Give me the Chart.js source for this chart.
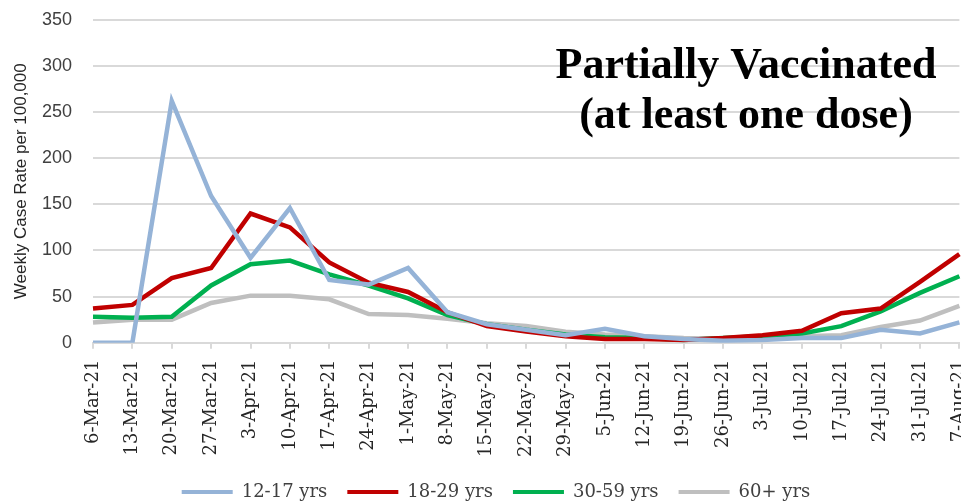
<!DOCTYPE html>
<html>
<head>
<meta charset="utf-8">
<script src="https://cdn.jsdelivr.net/npm/chart.js@4/dist/chart.umd.min.js"></script>
<style>
  html, body { margin: 0; padding: 0; background: #fff; overflow: hidden; }
  #wrap { width: 961px; height: 503px; position: relative; overflow: hidden; }
  #c { position: absolute; left: 0; top: -12px; }
</style>
</head>
<body>
<div id="wrap"><canvas id="c" width="992" height="523"></canvas></div>
<script>
const categories = ["6-Mar-21","13-Mar-21","20-Mar-21","27-Mar-21","3-Apr-21","10-Apr-21","17-Apr-21","24-Apr-21","1-May-21","8-May-21","15-May-21","22-May-21","29-May-21","5-Jun-21","12-Jun-21","19-Jun-21","26-Jun-21","3-Jul-21","10-Jul-21","17-Jul-21","24-Jul-21","31-Jul-21","7-Aug-21"];
const age12_17 = [0, 0, 262, 159, 92, 146, 68, 63, 81, 33, 20, 14, 8, 15, 7, 4, 2, 3, 5, 5, 14, 10, 22];
const age18_29 = [37, 41, 70, 81, 140, 125, 87, 65, 55, 33, 18, 12, 7, 4, 4, 3, 5, 8, 13, 32, 37, 66, 96];
const age30_59 = [28, 27, 28, 62, 85, 89, 74, 62, 48, 30, 20, 14, 9, 6, 5, 3, 5, 7, 10, 18, 34, 54, 72];
const age60plus = [22, 25, 25, 43, 51, 51, 47, 31, 30, 26, 21, 18, 12, 9, 7, 5, 4, 5, 7, 8, 17, 24, 40];
const seriesNames = ["12-17 yrs", "18-29 yrs", "30-59 yrs", "60+ yrs"];
const seriesColors = ["#95B3D7", "#C00000", "#00B050", "#BFBFBF"];
const yTicks = [0, 50, 100, 150, 200, 250, 300, 350];
const titleLines = ["Partially Vaccinated", "(at least one dose)"];
const yTitle = "Weekly Case Rate per 100,000";

const seriesData = [age12_17, age18_29, age30_59, age60plus];
const datasets = seriesData.map((d, i) => ({
  label: seriesNames[i],
  data: d,
  borderColor: seriesColors[i],
  backgroundColor: seriesColors[i],
  borderWidth: 4.5,
  pointRadius: 0,
  tension: 0,
  fill: false,
  order: i === 3 ? 4 : i
}));

const titlePlugin = {
  id: 'insideTitle',
  afterDraw(chart) {
    const ctx = chart.ctx;
    ctx.save();
    ctx.font = "bold 44px 'Liberation Serif'";
    ctx.fillStyle = "#000";
    ctx.textAlign = "center";
    ctx.textBaseline = "alphabetic";
    // canvas is shifted up by 12px on the page
    ctx.fillText(titleLines[0], 746, 78 + 12);
    ctx.fillText(titleLines[1], 746, 128 + 12);
    ctx.restore();
  }
};

new Chart(document.getElementById('c'), {
  type: 'line',
  data: { labels: categories, datasets },
  plugins: [titlePlugin],
  options: {
    responsive: false,
    animation: false,
    layout: { padding: { top: 0, right: 0, left: 0, bottom: 0 } },
    plugins: {
      legend: {
        position: 'bottom',
        labels: {
          font: { family: "'DejaVu Serif'", size: 18 },
          color: '#404040',
          boxWidth: 51,
          boxHeight: 4,
          padding: 20,
          generateLabels(chart) {
            return chart.data.datasets.map((ds, i) => ({
              text: ds.label,
              fillStyle: ds.borderColor,
              strokeStyle: ds.borderColor,
              lineWidth: 0,
              hidden: false,
              datasetIndex: i,
              fontColor: '#404040'
            }));
          }
        }
      },
      tooltip: { enabled: false }
    },
    scales: {
      x: {
        offset: false,
        afterFit(scale) { scale.height -= 5; },
        border: { display: true, color: '#D9D9D9', width: 2 },
        grid: { display: true, drawOnChartArea: false, drawTicks: true, tickLength: 6, color: '#D9D9D9', lineWidth: 2 },
        ticks: {
          autoSkip: false,
          maxRotation: 90,
          minRotation: 90,
          padding: 11,
          color: '#262626',
          font: { family: "'DejaVu Serif'", size: 18 }
        }
      },
      y: {
        min: 0,
        max: 350,
        afterBuildTicks(scale) { scale.ticks = yTicks.map(v => ({ value: v })); },
        afterFit(scale) { scale.width = 93; },
        border: { display: false },
        grid: { color: '#D9D9D9', lineWidth: 2, drawTicks: false },
        ticks: {
          padding: 21,
          color: '#404040',
          font: { family: "'Liberation Sans'", size: 18 }
        },
        title: {
          display: true,
          text: yTitle,
          color: '#262626',
          font: { family: "'Liberation Sans'", size: 17 },
          padding: { top: 11, bottom: 0 }
        }
      }
    }
  }
});
</script>
</body>
</html>
